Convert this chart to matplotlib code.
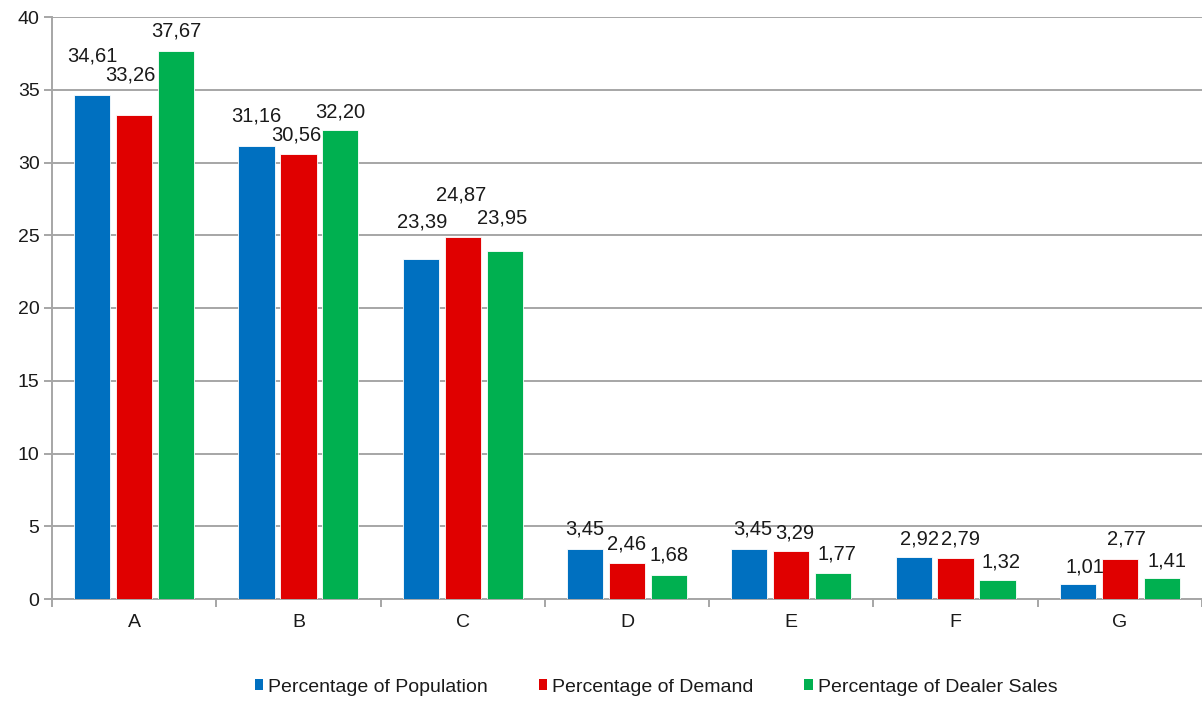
import matplotlib
matplotlib.use("Agg")
import matplotlib.pyplot as plt
import numpy as np
from matplotlib.patches import Patch

plt.rcParams['font.family'] = ['Liberation Sans', 'DejaVu Sans']

categories = ["A", "B", "C", "D", "E", "F", "G"]
population = [34.61, 31.16, 23.39, 3.45, 3.45, 2.92, 1.01]
demand = [33.26, 30.56, 24.87, 2.46, 3.29, 2.79, 2.77]
dealer_sales = [37.67, 32.20, 23.95, 1.68, 1.77, 1.32, 1.41]
series_names = ["Percentage of Population", "Percentage of Demand",
                "Percentage of Dealer Sales"]
colors = ["#0070C0", "#E00000", "#00B050"]

# label placement (pixels) relative to the top centre of each bar, per series
label_dx = [
    [0, 0, 1, 0, 3, 6, 7],
    [-4, -2, -2, 0, 3, 5, 7],
    [0, 0, -2, 0, 4, 4, 5],
]
label_dy = [
    [39, 30, 37, 20, 20, 18, 17],
    [40, 19, 42, 19, 18, 19, 20],
    [20, 18, 33, 20, 19, 18, 17],
]

W, H = 1202, 701
fig = plt.figure(figsize=(W / 100, H / 100), dpi=100)
ax = fig.add_axes([52 / W, 102 / H, (W - 52) / W, 582 / H])

x = np.arange(len(categories))
bar_w = 0.22
step = 0.255
grid_c = "#A6A6A6"
text_c = "#1a1a1a"

for i, (vals, col) in enumerate(zip([population, demand, dealer_sales], colors)):
    xs = x + (i - 1) * step
    bars = ax.bar(xs, vals, width=bar_w, color=col, edgecolor="white",
                  linewidth=0.6, zorder=3)
    for j, (b, v) in enumerate(zip(bars, vals)):
        ax.annotate(f"{v:.2f}".replace(".", ","),
                    (b.get_x() + b.get_width() / 2, v),
                    xytext=(label_dx[i][j], label_dy[i][j]),
                    textcoords="offset pixels", ha="center", va="center",
                    fontsize=14.5, color=text_c, zorder=4)

ax.set_xlim(-0.5, len(categories) - 0.5)
ax.set_ylim(0, 40)
ax.set_yticks(np.arange(0, 41, 5))
ax.set_xticks(x)
ax.set_xticklabels(categories)
ax.set_xticks(np.arange(-0.5, len(categories) - 0.4, 1), minor=True)

ax.grid(axis="y", color=grid_c, linewidth=1.4, zorder=0)
for s in ["top", "right"]:
    ax.spines[s].set_visible(False)
for s in ["left", "bottom"]:
    ax.spines[s].set_color(grid_c)
    ax.spines[s].set_linewidth(1.4)

ax.tick_params(axis="y", length=6, width=1.4, color=grid_c, labelsize=14,
               pad=3, labelcolor=text_c)
ax.tick_params(axis="x", which="major", length=0, labelsize=14, pad=11,
               labelcolor=text_c)
ax.tick_params(axis="x", which="minor", length=6, width=1.4, color=grid_c)

handles = [Patch(facecolor=c, edgecolor="none") for c in colors]
fig.legend(handles, series_names, loc="center", bbox_to_anchor=(656 / W, 1 - 687 / H),
           ncol=3, frameon=False, fontsize=14, handlelength=0.45,
           handleheight=0.45, handletextpad=0.25, columnspacing=2.6,
           labelcolor=text_c)

fig.savefig("out.png", dpi=100)
